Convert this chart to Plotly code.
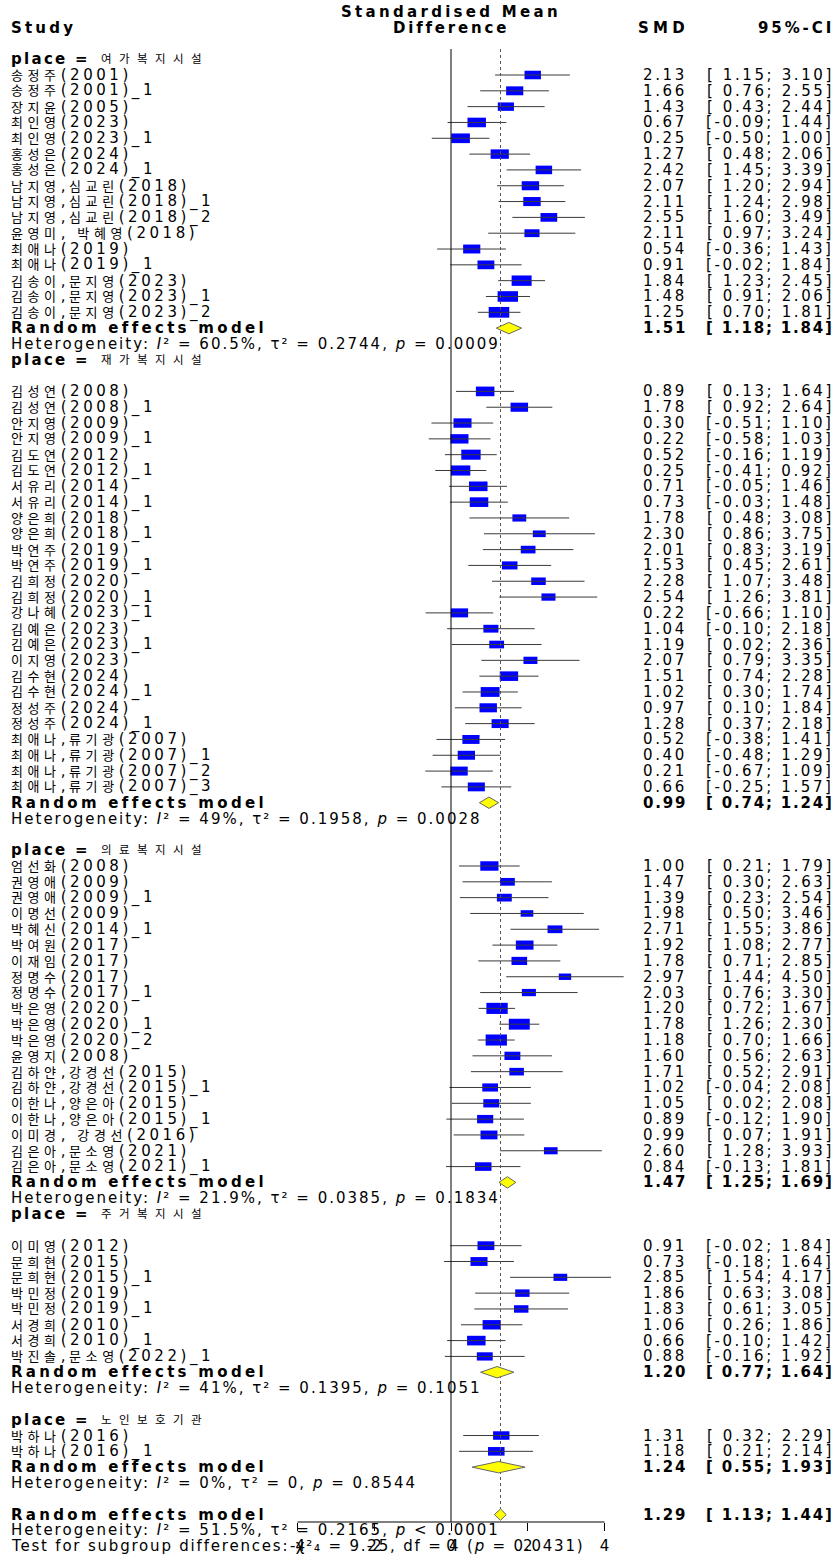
import re
import numpy as np
import plotly.graph_objects as go

# ---------------- data ----------------
group_names = ["여가복지시설", "재가복지시설", "의료복지시설", "주거복지시설", "노인보호기관"]

g1_study = ["송정주(2001)", "송정주(2001)_1", "장지윤(2005)", "최인영(2023)", "최인영(2023)_1",
            "홍성은(2024)", "홍성은(2024)_1", "남지영,심교린(2018)", "남지영,심교린(2018)_1",
            "남지영,심교린(2018)_2", "윤영미, 박혜영(2018)", "최애나(2019)", "최애나(2019)_1",
            "김송이,문지영(2023)", "김송이,문지영(2023)_1", "김송이,문지영(2023)_2"]
g1_smd = [2.13, 1.66, 1.43, 0.67, 0.25, 1.27, 2.42, 2.07, 2.11, 2.55, 2.11, 0.54, 0.91, 1.84, 1.48, 1.25]
g1_lo = [1.15, 0.76, 0.43, -0.09, -0.50, 0.48, 1.45, 1.20, 1.24, 1.60, 0.97, -0.36, -0.02, 1.23, 0.91, 0.70]
g1_hi = [3.10, 2.55, 2.44, 1.44, 1.00, 2.06, 3.39, 2.94, 2.98, 3.49, 3.24, 1.43, 1.84, 2.45, 2.06, 1.81]

g2_study = ["김성연(2008)", "김성연(2008)_1", "안지영(2009)", "안지영(2009)_1", "김도연(2012)",
            "김도연(2012)_1", "서유리(2014)", "서유리(2014)_1", "양은희(2018)", "양은희(2018)_1",
            "박연주(2019)", "박연주(2019)_1", "김희정(2020)", "김희정(2020)_1", "강나혜(2023)_1",
            "김예은(2023)", "김예은(2023)_1", "이지영(2023)", "김수현(2024)", "김수현(2024)_1",
            "정성주(2024)", "정성주(2024)_1", "최애나,류기광(2007)", "최애나,류기광(2007)_1",
            "최애나,류기광(2007)_2", "최애나,류기광(2007)_3"]
g2_smd = [0.89, 1.78, 0.30, 0.22, 0.52, 0.25, 0.71, 0.73, 1.78, 2.30, 2.01, 1.53, 2.28, 2.54, 0.22,
          1.04, 1.19, 2.07, 1.51, 1.02, 0.97, 1.28, 0.52, 0.40, 0.21, 0.66]
g2_lo = [0.13, 0.92, -0.51, -0.58, -0.16, -0.41, -0.05, -0.03, 0.48, 0.86, 0.83, 0.45, 1.07, 1.26, -0.66,
         -0.10, 0.02, 0.79, 0.74, 0.30, 0.10, 0.37, -0.38, -0.48, -0.67, -0.25]
g2_hi = [1.64, 2.64, 1.10, 1.03, 1.19, 0.92, 1.46, 1.48, 3.08, 3.75, 3.19, 2.61, 3.48, 3.81, 1.10,
         2.18, 2.36, 3.35, 2.28, 1.74, 1.84, 2.18, 1.41, 1.29, 1.09, 1.57]

g3_study = ["엄선화(2008)", "권영애(2009)", "권영애(2009)_1", "이명선(2009)", "박혜신(2014)_1",
            "박여원(2017)", "이재임(2017)", "정명수(2017)", "정명수(2017)_1", "박은영(2020)",
            "박은영(2020)_1", "박은영(2020)_2", "윤영지(2008)", "김하얀,강경선(2015)",
            "김하얀,강경선(2015)_1", "이한나,양은아(2015)", "이한나,양은아(2015)_1",
            "이미경, 강경선(2016)", "김은아,문소영(2021)", "김은아,문소영(2021)_1"]
g3_smd = [1.00, 1.47, 1.39, 1.98, 2.71, 1.92, 1.78, 2.97, 2.03, 1.20, 1.78, 1.18, 1.60, 1.71, 1.02,
          1.05, 0.89, 0.99, 2.60, 0.84]
g3_lo = [0.21, 0.30, 0.23, 0.50, 1.55, 1.08, 0.71, 1.44, 0.76, 0.72, 1.26, 0.70, 0.56, 0.52, -0.04,
         0.02, -0.12, 0.07, 1.28, -0.13]
g3_hi = [1.79, 2.63, 2.54, 3.46, 3.86, 2.77, 2.85, 4.50, 3.30, 1.67, 2.30, 1.66, 2.63, 2.91, 2.08,
         2.08, 1.90, 1.91, 3.93, 1.81]

g4_study = ["이미영(2012)", "문희현(2015)", "문희현(2015)_1", "박민정(2019)", "박민정(2019)_1",
            "서경희(2010)", "서경희(2010)_1", "박진솔,문소영(2022)_1"]
g4_smd = [0.91, 0.73, 2.85, 1.86, 1.83, 1.06, 0.66, 0.88]
g4_lo = [-0.02, -0.18, 1.54, 0.63, 0.61, 0.26, -0.10, -0.16]
g4_hi = [1.84, 1.64, 4.17, 3.08, 3.05, 1.86, 1.42, 1.92]

g5_study = ["박하나(2016)", "박하나(2016)_1"]
g5_smd = [1.31, 1.18]
g5_lo = [0.32, 0.21]
g5_hi = [2.29, 2.14]

re_smd = [1.51, 0.99, 1.47, 1.20, 1.24]
re_lo = [1.18, 0.74, 1.25, 0.77, 0.55]
re_hi = [1.84, 1.24, 1.69, 1.64, 1.93]
het_i2 = ["60.5%", "49%", "21.9%", "41%", "0%"]
het_tau2 = ["0.2744", "0.1958", "0.0385", "0.1395", "0"]
het_p = ["= 0.0009", "= 0.0028", "= 0.1834", "= 0.1051", "= 0.8544"]

overall_smd, overall_lo, overall_hi = 1.29, 1.13, 1.44
overall_i2, overall_tau2, overall_p = "51.5%", "0.2165", "&lt; 0.0001"
subgroup_chi2, subgroup_df, subgroup_p = "9.25", "4", "0.0431"

x_ticks = [-4, -2, 0, 2, 4]
null_value = 0

# ---------------- layout constants ----------------
W, H = 836, 1560
X0_PX = 451.0       # pixel of SMD = 0
UNIT_PX = 38.375    # pixels per SMD unit
ROW0_PX = 75.0      # pixel of first study row
PITCH = 15.82       # row pitch
AXIS_PX = 1522.0    # pixel of the x-axis line
LINES_TOP_PX = 49.0
FONT = "DejaVu Sans, Noto Sans CJK KR, sans-serif"
FS = 15

x_range = [-X0_PX / UNIT_PX, (W - X0_PX) / UNIT_PX]
y_range = [(AXIS_PX - ROW0_PX) / PITCH, (0 - ROW0_PX) / PITCH]   # reversed

def row_px(r):
    return ROW0_PX + r * PITCH

def ypaper(r):
    return (AXIS_PX - row_px(r)) / AXIS_PX

HANGUL_RE = re.compile(r'([\uac00-\ud7a3]+)')

def spaced(text, ls, hsize=13, hls=4.6):
    """Sibling spans: Hangul runs and other runs, each with its own spacing."""
    parts = HANGUL_RE.split(text)
    body = ''
    for i, p in enumerate(parts):
        if not p:
            continue
        if i % 2:
            body += f'<span style="font-size:{hsize}px;letter-spacing:{hls}px">{p}</span>'
        else:
            body += f'<span style="letter-spacing:{ls}px">{p}</span>'
    return body

annotations = []

def add_text(x_px, r, text, anchor='left', size=FS):
    annotations.append(dict(x=x_px / W, xref='paper', y=ypaper(r), yref='paper',
                            text=text, xanchor=anchor, yanchor='middle', showarrow=False,
                            font=dict(family=FONT, size=size, color='black')))

def fmt_ci(lo, hi):
    def f(v):
        s = f"{v:.2f}"
        return s if v < 0 else " " + s
    return f"[{f(lo)};{f(hi)}]"

# ---------------- row structure ----------------
groups = [
    dict(study=g1_study, smd=g1_smd, lo=g1_lo, hi=g1_hi),
    dict(study=g2_study, smd=g2_smd, lo=g2_lo, hi=g2_hi),
    dict(study=g3_study, smd=g3_smd, lo=g3_lo, hi=g3_hi),
    dict(study=g4_study, smd=g4_smd, lo=g4_lo, hi=g4_hi),
    dict(study=g5_study, smd=g5_smd, lo=g5_lo, hi=g5_hi),
]
LABEL_OFFSET = [None, 1, 2, 1, 2]

prev_het = None
for k, g in enumerate(groups):
    if k == 0:
        g['label_row'] = -1
        start = 0
    else:
        g['label_row'] = prev_het + LABEL_OFFSET[k]
        start = prev_het + 3
    g['rows'] = list(range(start, start + len(g['study'])))
    g['re_row'] = start + len(g['study'])
    g['het_row'] = g['re_row'] + 1
    prev_het = g['het_row']
overall_row = prev_het + 2
overall_het_row = prev_het + 3
test_row = prev_het + 4

# ---------------- marks ----------------
tau2_all = float(overall_tau2)
all_rows, all_smd, all_lo, all_hi = [], [], [], []
for g in groups:
    all_rows += g['rows']; all_smd += g['smd']; all_lo += g['lo']; all_hi += g['hi']
all_rows = np.array(all_rows, float)
all_smd = np.array(all_smd); all_lo = np.array(all_lo); all_hi = np.array(all_hi)
se = (all_hi - all_lo) / (2 * 1.96)
weight = 1.0 / (se ** 2 + tau2_all)
sq_w_px = 11.2 * np.sqrt(weight)
sq_h_px = sq_w_px * 0.52
sq_w = sq_w_px / UNIT_PX
sq_h = sq_h_px / PITCH

fig = go.Figure()

fig.add_trace(go.Bar(orientation='h', y=all_rows, x=sq_w, base=all_smd - sq_w / 2, width=sq_h,
                     marker=dict(color='#0000FF', line=dict(width=0)), hoverinfo='skip'))

ci_x, ci_y = [], []
for r, lo, hi in zip(all_rows, all_lo, all_hi):
    ci_x += [lo, hi, None]; ci_y += [r, r, None]
fig.add_trace(go.Scatter(x=ci_x, y=ci_y, mode='lines', line=dict(color='#3a3a3a', width=1),
                         hoverinfo='skip'))

# reference lines
fig.add_trace(go.Scatter(x=[null_value, null_value],
                         y=[(LINES_TOP_PX - ROW0_PX) / PITCH, y_range[0]],
                         mode='lines', line=dict(color='black', width=1), hoverinfo='skip'))
DH = 0.36
fig.add_trace(go.Scatter(x=[overall_smd, overall_smd],
                         y=[(LINES_TOP_PX - ROW0_PX) / PITCH, overall_row - DH],
                         mode='lines', line=dict(color='#555555', width=1, dash='dot'),
                         hoverinfo='skip'))

# diamonds
dx, dy = [], []
for g, e, lo, hi in zip(groups, re_smd, re_lo, re_hi):
    r = g['re_row']
    dx += [lo, e, hi, e, lo, None]; dy += [r, r - DH, r, r + DH, r, None]
dx += [overall_lo, overall_smd, overall_hi, overall_smd, overall_lo]
dy += [overall_row, overall_row - DH, overall_row, overall_row + DH, overall_row]
fig.add_trace(go.Scatter(x=dx, y=dy, mode='lines', fill='toself', fillcolor='#FFFF00',
                         line=dict(color='#666666', width=1), hoverinfo='skip'))

# axis line
fig.add_shape(type='line', xref='x', yref='paper', x0=x_ticks[0], x1=x_ticks[-1], y0=0, y1=0,
              line=dict(color='black', width=1))

# ---------------- text ----------------
LX = 9
SMD_X = 688.5
CI_X = 836
L_LAB = 3.55
L_NUM = 2.6
L_NUM_B = 1.8

add_text(451, -4, '<b>' + spaced('Standardised Mean', 3.3) + '</b>', 'center')
add_text(451, -3, '<b>' + spaced('Difference', 2.8) + '</b>', 'center')
add_text(LX, -3, '<b>' + spaced('Study', 3.2) + '</b>')
add_text(SMD_X + 2, -3, '<b>' + spaced('SMD', 4.3) + '</b>', 'right')
add_text(CI_X, -3, '<b>' + spaced('95%-CI', 2.9) + '</b>', 'right')

for k, g in enumerate(groups):
    add_text(LX, g['label_row'], '<b>' + spaced('place =', 2.3) + '</b>')
    add_text(99, g['label_row'], spaced(group_names[k], 7.0, hsize=11.5, hls=7.4))
    for r, name, e, lo, hi in zip(g['rows'], g['study'], g['smd'], g['lo'], g['hi']):
        add_text(LX, r, spaced(name, L_LAB))
        add_text(SMD_X, r, spaced(f"{e:.2f}", L_NUM), 'right')
        add_text(CI_X, r, spaced(fmt_ci(lo, hi), L_NUM), 'right')
    add_text(LX, g['re_row'], '<b>' + spaced('Random effects model', 3.3) + '</b>')
    add_text(SMD_X, g['re_row'], '<b>' + spaced(f"{re_smd[k]:.2f}", L_NUM_B) + '</b>', 'right')
    add_text(CI_X, g['re_row'], '<b>' + spaced(fmt_ci(re_lo[k], re_hi[k]), L_NUM_B) + '</b>', 'right')
    het = (f"Heterogeneity: <i>I</i>² = {het_i2[k]}, τ² = {het_tau2[k]}, "
           f"<i>p</i> {het_p[k]}")
    add_text(LX, g['het_row'], spaced(het, 2.0))

add_text(LX, overall_row, '<b>' + spaced('Random effects model', 3.3) + '</b>')
add_text(SMD_X, overall_row, '<b>' + spaced(f"{overall_smd:.2f}", L_NUM_B) + '</b>', 'right')
add_text(CI_X, overall_row, '<b>' + spaced(fmt_ci(overall_lo, overall_hi), L_NUM_B) + '</b>', 'right')
het_all = (f"Heterogeneity: <i>I</i>² = {overall_i2}, τ² = {overall_tau2}, "
           f"<i>p</i> {overall_p}")
add_text(LX, overall_het_row, spaced(het_all, 2.0))
test = (f"Test for subgroup differences: χ²₄ = {subgroup_chi2}, "
        f"df = {subgroup_df} (<i>p</i> = {subgroup_p})")
add_text(LX, test_row, spaced(test, 1.8))

fig.update_layout(
    width=W, height=H,
    margin=dict(l=0, r=0, t=0, b=int(H - AXIS_PX), pad=0),
    paper_bgcolor='white', plot_bgcolor='white',
    showlegend=False, barmode='overlay',
    annotations=annotations,
    xaxis=dict(range=x_range, tickmode='array', tickvals=x_ticks,
               ticktext=[str(t) for t in x_ticks], ticks='outside', ticklen=8,
               tickwidth=1, tickcolor='black', showline=False, zeroline=False,
               showgrid=False, automargin=False, fixedrange=True,
               tickfont=dict(family=FONT, size=FS, color='black'), ticklabelstandoff=2),
    yaxis=dict(range=y_range, visible=False, showgrid=False, zeroline=False,
               automargin=False, fixedrange=True),
)

fig.write_html("out.html")
